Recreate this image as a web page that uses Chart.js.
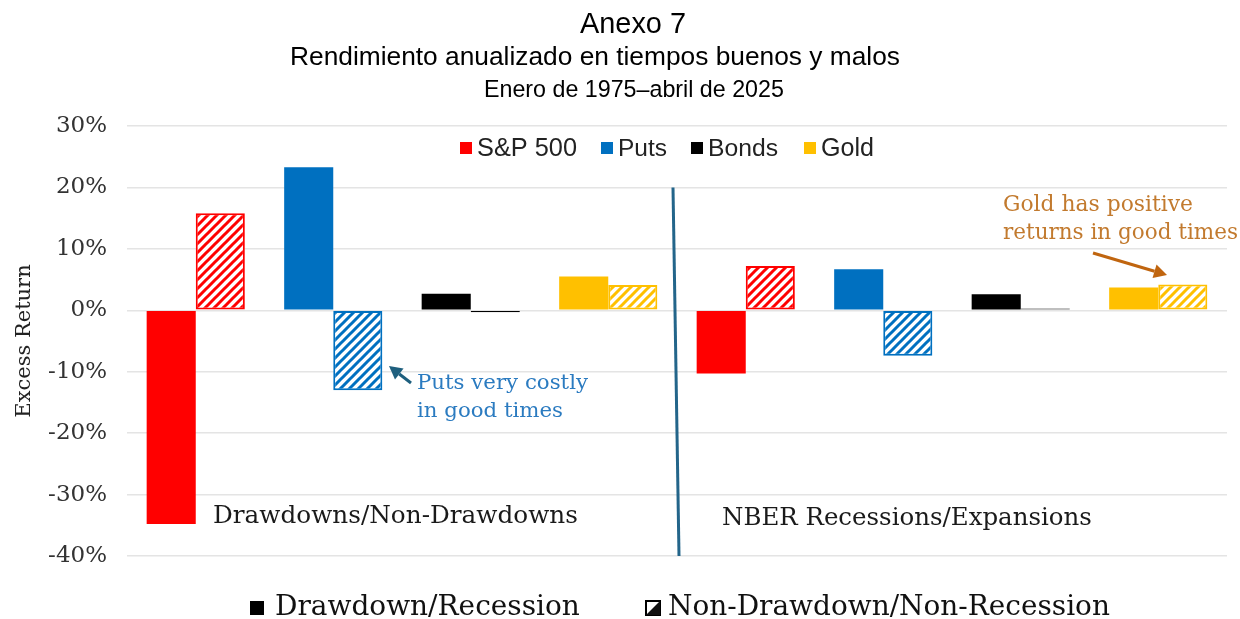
<!DOCTYPE html>
<html>
<head>
<meta charset="utf-8">
<script src="https://cdn.jsdelivr.net/npm/chart.js@4.4.0/dist/chart.umd.min.js"></script>
<style>
  html, body { margin: 0; padding: 0; background: #fff; }
  #wrap { width: 1240px; height: 619px; }
</style>
</head>
<body>
<div id="wrap"><canvas id="chart" width="1240" height="619"></canvas></div>
<script>
// asset classes, repeated for the two regimes (drawdowns | NBER recessions)
const assets = ['S&P 500', 'Puts', 'Bonds', 'Gold'];
const categories = ['S&P 500', 'Puts', 'Bonds', 'Gold', 'S&P 500', 'Puts', 'Bonds', 'Gold'];
const assetColors = ['#FF0000', '#0070C0', '#000000', '#FFC000'];

// excess return (%), bad times = drawdown / recession, good times = non-drawdown / expansion
const badTimes  = [-34.8, 23.3, 2.7, 5.5, -10.3, 6.7, 2.6, 3.7];
const goodTimes = [15.8, -13.0, -0.3, 4.1, 7.2, -7.4, 0.3, 4.2];

const yMin = -40, yMax = 30, yStep = 10;

const serif = '"DejaVu Serif", serif';
const sans = '"Liberation Sans", Arial, sans-serif';

function hatch(color) {
    const s = 9;
    const c = document.createElement('canvas');
    c.width = s; c.height = s;
    const g = c.getContext('2d');
    g.fillStyle = '#fff';
    g.fillRect(0, 0, s, s);
    g.strokeStyle = color;
    g.lineWidth = 3;
    g.beginPath();
    g.moveTo(-2, s + 2); g.lineTo(s + 2, -2);
    g.moveTo(-2, 2); g.lineTo(2, -2);
    g.moveTo(s - 2, s + 2); g.lineTo(s + 2, s - 2);
    g.stroke();
    return g.createPattern(c, 'repeat');
}

const barColors = categories.map((_, i) => assetColors[i % 4]);
const hatchFills = barColors.map(c => hatch(c));

// draw text so that it spans a given width
function fitText(ctx, txt, x, y, w, family, color) {
    ctx.font = '100px ' + family;
    const size = 100 * w / ctx.measureText(txt).width;
    ctx.font = size.toFixed(2) + 'px ' + family;
    ctx.fillStyle = color;
    ctx.textAlign = 'left';
    ctx.textBaseline = 'alphabetic';
    ctx.fillText(txt, x, y);
}

function arrow(ctx, x1, y1, x2, y2, color) {
    const a = Math.atan2(y2 - y1, x2 - x1);
    const hl = 13, hw = 7;
    const bx = x2 - hl * Math.cos(a), by = y2 - hl * Math.sin(a);
    ctx.strokeStyle = color;
    ctx.fillStyle = color;
    ctx.lineWidth = 3;
    ctx.beginPath();
    ctx.moveTo(x1, y1);
    ctx.lineTo(bx, by);
    ctx.stroke();
    ctx.beginPath();
    ctx.moveTo(x2, y2);
    ctx.lineTo(bx + hw * Math.sin(a), by - hw * Math.cos(a));
    ctx.lineTo(bx - hw * Math.sin(a), by + hw * Math.cos(a));
    ctx.closePath();
    ctx.fill();
}

const decorations = {
    id: 'decorations',
    afterDraw(chart) {
        const ctx = chart.ctx;
        const x = chart.scales.x, y = chart.scales.y;
        ctx.save();

        // titles
        fitText(ctx, 'Anexo 7', 580, 33, 106, sans, '#000');
        fitText(ctx, 'Rendimiento anualizado en tiempos buenos y malos', 290, 65, 610, sans, '#000');
        fitText(ctx, 'Enero de 1975\u2013abril de 2025', 484, 97, 300, sans, '#000');

        // colour legend inside the plot
        const items = [[460, 100], [601, 49], [691, 70], [804, 53]];
        assets.forEach((name, i) => {
            const [lx, w] = items[i];
            ctx.fillStyle = assetColors[i];
            ctx.fillRect(lx, 142, 12, 12);
            fitText(ctx, name, lx + 17, 156, w, sans, '#222');
        });

        // divider between the two regimes
        const mid = (x.getPixelForValue(3) + x.getPixelForValue(4)) / 2;
        ctx.strokeStyle = '#23658A';
        ctx.lineWidth = 3;
        ctx.beginPath();
        ctx.moveTo(mid - 4, y.getPixelForValue(20));
        ctx.lineTo(mid + 2, y.getPixelForValue(-40));
        ctx.stroke();

        // regime labels
        fitText(ctx, 'Drawdowns/Non-Drawdowns', 213, 523, 365, serif, '#1a1a1a');
        fitText(ctx, 'NBER Recessions/Expansions', 722, 525, 370, serif, '#1a1a1a');

        // annotations
        fitText(ctx, 'Puts very costly', 417, 389, 171, serif, '#2B7BC0');
        fitText(ctx, 'in good times', 417, 417, 146, serif, '#2B7BC0');
        arrow(ctx, 411, 383, 389, 366, '#1E5F7E');

        fitText(ctx, 'Gold has positive', 1003, 211, 190, serif, '#C27A2E');
        fitText(ctx, 'returns in good times', 1003, 239, 235, serif, '#C27A2E');
        arrow(ctx, 1093, 253, 1167, 275, '#C0650F');

        // bottom legend
        ctx.fillStyle = '#000';
        ctx.fillRect(250, 601, 14, 14);
        fitText(ctx, 'Drawdown/Recession', 275, 615, 305, serif, '#111');
        ctx.strokeStyle = '#000';
        ctx.lineWidth = 2;
        ctx.strokeRect(646, 601, 14, 14);
        ctx.beginPath();
        ctx.moveTo(646, 615); ctx.lineTo(660, 615); ctx.lineTo(660, 601);
        ctx.closePath();
        ctx.fill();
        fitText(ctx, 'Non-Drawdown/Non-Recession', 668, 615, 442, serif, '#111');

        ctx.restore();
    }
};

new Chart(document.getElementById('chart'), {
    type: 'bar',
    data: {
        labels: categories,
        datasets: [
            {
                label: 'Drawdown/Recession',
                data: badTimes,
                backgroundColor: barColors,
                borderColor: barColors,
                borderWidth: 0,
                categoryPercentage: 0.714,
                barPercentage: 1.0
            },
            {
                label: 'Non-Drawdown/Non-Recession',
                data: goodTimes,
                backgroundColor: hatchFills,
                borderColor: barColors,
                borderWidth: 2,
                borderSkipped: false,
                categoryPercentage: 0.714,
                barPercentage: 1.0
            }
        ]
    },
    options: {
        responsive: false,
        animation: false,
        layout: { padding: { top: 126, bottom: 63, left: 0, right: 13 } },
        plugins: {
            legend: { display: false },
            title: { display: false },
            tooltip: { enabled: false }
        },
        scales: {
            x: {
                display: false,
                grid: { display: false }
            },
            y: {
                min: yMin,
                max: yMax,
                afterFit(scale) { scale.width = 127; },
                border: { display: false },
                grid: { color: '#E4E4E4', lineWidth: 1.5, drawTicks: false },
                ticks: {
                    stepSize: yStep,
                    padding: 20,
                    color: '#333',
                    font: { family: serif, size: 23 },
                    callback: v => v + '%'
                },
                title: {
                    display: true,
                    text: 'Excess Return',
                    color: '#222',
                    font: { family: serif, size: 21 },
                    padding: { top: 12, bottom: 0 }
                }
            }
        }
    },
    plugins: [decorations]
});
</script>
</body>
</html>
